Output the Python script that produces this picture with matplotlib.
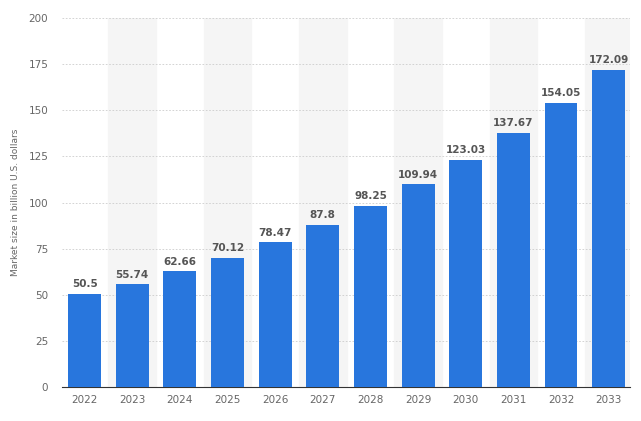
import matplotlib
matplotlib.use("Agg")
import matplotlib.pyplot as plt

years = ["2022", "2023", "2024", "2025", "2026", "2027", "2028", "2029", "2030", "2031", "2032", "2033"]
values = [50.5, 55.74, 62.66, 70.12, 78.47, 87.8, 98.25, 109.94, 123.03, 137.67, 154.05, 172.09]
labels = ["50.5", "55.74", "62.66", "70.12", "78.47", "87.8", "98.25", "109.94", "123.03", "137.67", "154.05", "172.09"]

fig = plt.figure(figsize=(6.41, 4.21), dpi=100)
ax = fig.add_axes([0.097, 0.081, 0.886, 0.876])

x = range(len(years))
for i in x:
    if i % 2 == 1:
        ax.axvspan(i - 0.5, i + 0.5, color="#f5f5f5", zorder=0)

ax.bar(x, values, width=0.69, color="#2876dd", zorder=3)
for i, v in enumerate(values):
    ax.text(i, v + 2.5, labels[i], ha="center", va="bottom", fontsize=7.5,
            fontweight="bold", color="#555555", zorder=4)

ax.set_xlim(-0.47, len(years) - 0.55)
ax.set_ylim(0, 200)
ax.set_yticks(range(0, 201, 25))
ax.set_xticks(list(x))
ax.set_xticklabels(years)
ax.grid(axis="y", color="#cccccc", linestyle=(0, (2, 2)), linewidth=0.6, zorder=1)
for s in ["top", "right", "left"]:
    ax.spines[s].set_visible(False)
ax.spines["bottom"].set_color("#333333")
ax.tick_params(axis="both", length=0, labelsize=7.5, colors="#666666")
ax.tick_params(axis="x", pad=6)
ax.tick_params(axis="y", pad=10)
ax.set_ylabel("Market size in billion U.S. dollars", fontsize=6.5, color="#666666", labelpad=6)

fig.savefig("out.png", dpi=100)
